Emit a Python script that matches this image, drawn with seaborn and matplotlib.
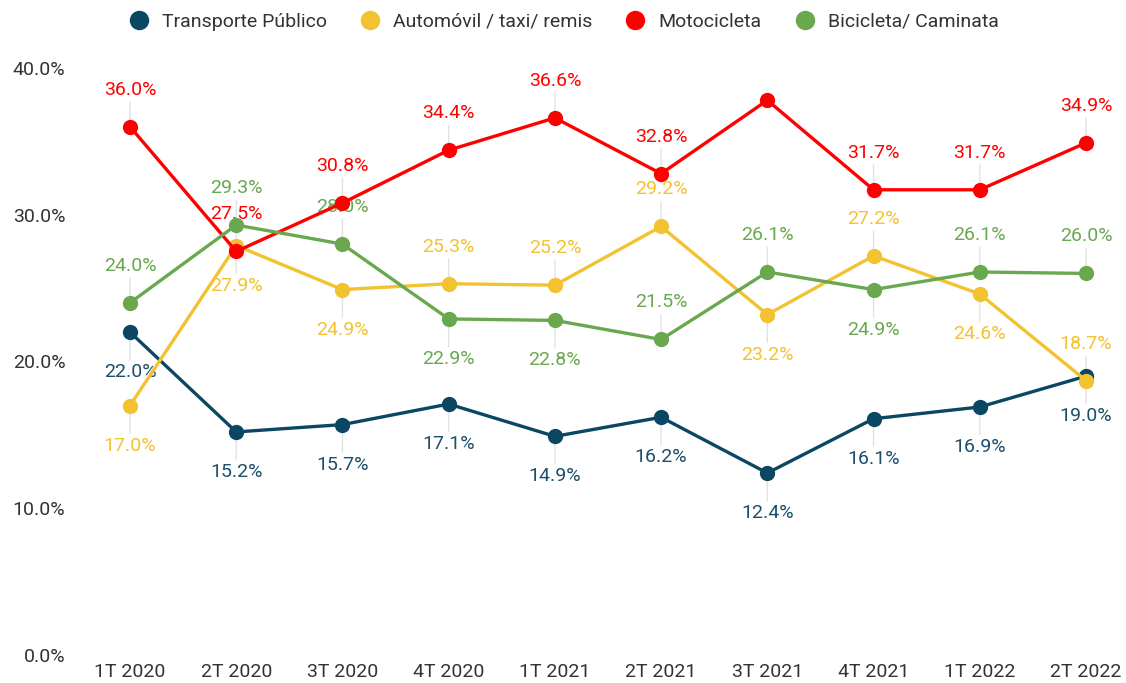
import matplotlib
matplotlib.use('Agg')
import matplotlib.pyplot as plt
import seaborn as sns
import pandas as pd
from matplotlib.lines import Line2D

quarters = ["1T 2020", "2T 2020", "3T 2020", "4T 2020", "1T 2021",
            "2T 2021", "3T 2021", "4T 2021", "1T 2022", "2T 2022"]
series_names = ["Transporte Público", "Automóvil / taxi/ remis", "Motocicleta", "Bicicleta/ Caminata"]
transporte = [22.0, 15.2, 15.7, 17.1, 14.9, 16.2, 12.4, 16.1, 16.9, 19.0]
automovil = [17.0, 27.9, 24.9, 25.3, 25.2, 29.2, 23.2, 27.2, 24.6, 18.7]
moto = [36.0, 27.5, 30.8, 34.4, 36.6, 32.8, 37.8, 31.7, 31.7, 34.9]
bici = [24.0, 29.3, 28.0, 22.9, 22.8, 21.5, 26.1, 24.9, 26.1, 26.0]
y_ticks = [0, 10, 20, 30, 40]

# label placement: 1 = above, -1 = below, 0 = no label
pos_transporte = [-1, -1, -1, -1, -1, -1, -1, -1, -1, -1]
pos_automovil = [-1, -1, -1, 1, 1, 1, -1, 1, -1, 1]
pos_moto = [1, 1, 1, 1, 1, 1, 0, 1, 1, 1]
pos_bici = [1, 1, 1, -1, -1, 1, 1, -1, 1, 1]

colors = ["#0B4662", "#F2C230", "#FF0000", "#6AA84F"]
label_colors = ["#1B4F6B", "#F2C230", "#FF0000", "#6AA84F"]

all_vals = [transporte, automovil, moto, bici]
all_pos = [pos_transporte, pos_automovil, pos_moto, pos_bici]

rows = []
for name, vals in zip(series_names, all_vals):
    for i, v in enumerate(vals):
        rows.append({"idx": i, "quarter": quarters[i], "serie": name, "value": v})
df = pd.DataFrame(rows)

sns.set_theme(style="white")
plt.rcParams['font.family'] = ['Roboto', 'DejaVu Sans']

fig = plt.figure(figsize=(11.26, 6.83), dpi=100)
L, R = 75, 1110
ax = fig.add_axes([L / 1126, (683 - 655) / 683, (R - L) / 1126, 587 / 683])

sns.lineplot(data=df, x="idx", y="value", hue="serie", hue_order=series_names,
             palette=colors, marker="o", markersize=11, markeredgewidth=0,
             linewidth=2.4, ax=ax, legend=False, sort=False, zorder=3)
for ln in ax.lines:
    ln.set_clip_on(False)

for vals, poss, col in zip(all_vals, all_pos, label_colors):
    for i, (v, p) in enumerate(zip(vals, poss)):
        if p == 0:
            continue
        off = 37 * 0.72 if p > 0 else -40 * 0.72
        ax.annotate(f"{v:.1f}%", xy=(i, v), xytext=(0, off), textcoords="offset points",
                    ha="center", va="center", color=col, fontsize=14, zorder=1,
                    arrowprops=dict(arrowstyle="-", color="#e2e2e2", lw=1,
                                    shrinkA=0, shrinkB=0))

u = 9 / (1086 - 130)
ax.set_xlim(-(130 - L) * u, 9 + (R - 1086) * u)
ax.set_ylim(0, 40)
ax.set_xticks(range(len(quarters)))
ax.set_xticklabels(quarters)
ax.set_yticks(y_ticks)
ax.set_yticklabels([f"{t:.1f}%" for t in y_ticks])
ax.tick_params(axis="both", length=0, labelsize=14, labelcolor="#333333")
ax.tick_params(axis="x", pad=6)
ax.tick_params(axis="y", pad=7)
ax.set_xlabel("")
ax.set_ylabel("")
for s in ax.spines.values():
    s.set_visible(False)
ax.grid(False)

handles = [Line2D([0], [0], marker="o", linestyle="", markersize=14, markeredgewidth=0,
                  color=c) for c in colors]
leg = fig.legend(handles, series_names, loc="center", bbox_to_anchor=(0.5, 1 - 22 / 683),
                 ncol=4, frameon=False, fontsize=14, handletextpad=0.6, columnspacing=1.6,
                 handlelength=1.2)
for t in leg.get_texts():
    t.set_color("#333333")

fig.savefig("out.png", dpi=100)
